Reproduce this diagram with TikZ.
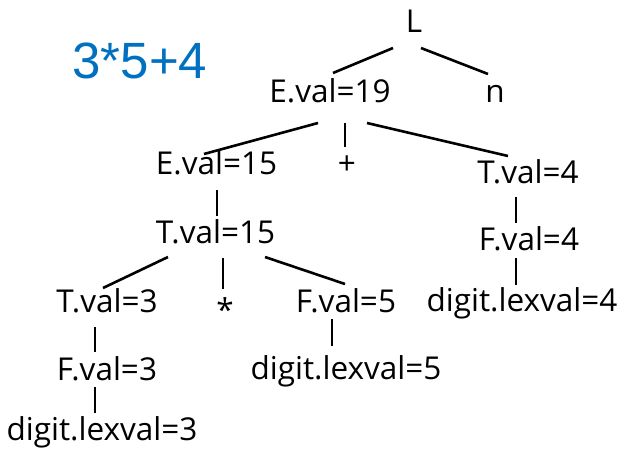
\documentclass[tikz,border=0pt]{standalone}
\usepackage{fontspec}
\setmainfont{Open Sans}
\newfontfamily\titlefont{Liberation Sans}
\usetikzlibrary{calc}
\definecolor{titleblue}{RGB}{0,112,192}
\begin{document}
\begin{tikzpicture}[x=1pt,y=-1pt,
  lbl/.style={anchor=base,inner sep=0pt,font=\fontsize{31.5}{36}\selectfont},
  edge/.style={line width=2.6pt}]
\fill[white] (0,0) rectangle (634,455);
\useasboundingbox (0,0) rectangle (634,455);
% title
\node[anchor=base,inner sep=0pt,text=titleblue,font=\titlefont\fontsize{51}{60}\selectfont] (title) at (140,78) {3*5+4};
% tree nodes
\node[lbl] (L)   at (414,32)  {L};
\node[lbl] (E19) at (330,102) {E.val=19};
\node[lbl] (n)   at (495,102) {n};
\node[lbl] (E15) at (216.5,174) {E.val=15};
\node[lbl] (plus) at (347,174) {+};
\node[lbl] (T4)  at (528,183) {T.val=4};
\node[lbl] (T15) at (215.5,243) {T.val=15};
\node[lbl] (F4)  at (529,250) {F.val=4};
\node[lbl] (T3)  at (107,312) {T.val=3};
\node[lbl] (star) at (225,312) {\raisebox{-9pt}{*}};
\node[lbl] (F5)  at (346,312) {F.val=5};
\node[lbl] (D4)  at (522,311) {digit.lexval=4};
\node[lbl] (F3)  at (107,380) {F.val=3};
\node[lbl] (D5)  at (346,379) {digit.lexval=5};
\node[lbl] (D3)  at (102,440) {digit.lexval=3};
% connectors
\draw[edge] ($(L.base)+(-21,16)$) -- ($(E19.base)+(3,-29)$);
\draw[edge] ($(L.base)+(7,16)$) -- ($(n.base)+(-7,-28)$);
\draw[edge] ($(E19.base)+(-12,21)$) -- ($(E15.base)+(-12.5,-20)$);
\draw[edge] ($(E19.base)+(15,21)$) -- ($(plus.base)+(-2,-27)$);
\draw[edge] ($(E19.base)+(37,21)$) -- ($(T4.base)+(-20,-27)$);
\draw[edge] ($(E15.base)+(0.5,16)$) -- ($(T15.base)+(1.5,-27)$);
\draw[edge] ($(T4.base)+(-12,14)$) -- ($(F4.base)+(-13,-27)$);
\draw[edge] ($(F4.base)+(-13,8)$) -- ($(D4.base)+(-6,-26)$);
\draw[edge] ($(T15.base)+(-47.5,14)$) -- ($(T3.base)+(-4,-24)$);
\draw[edge] ($(T15.base)+(7.5,15)$) -- ($(star.base)+(-2,-23)$);
\draw[edge] ($(T15.base)+(49.5,14)$) -- ($(F5.base)+(-1,-28)$);
\draw[edge] ($(T3.base)+(-12,15)$) -- ($(F3.base)+(-12,-28)$);
\draw[edge] ($(F3.base)+(-12,7)$) -- ($(D3.base)+(-7,-27)$);
\draw[edge] ($(F5.base)+(-14,7)$) -- ($(D5.base)+(-14,-33)$);
\end{tikzpicture}
\end{document}
